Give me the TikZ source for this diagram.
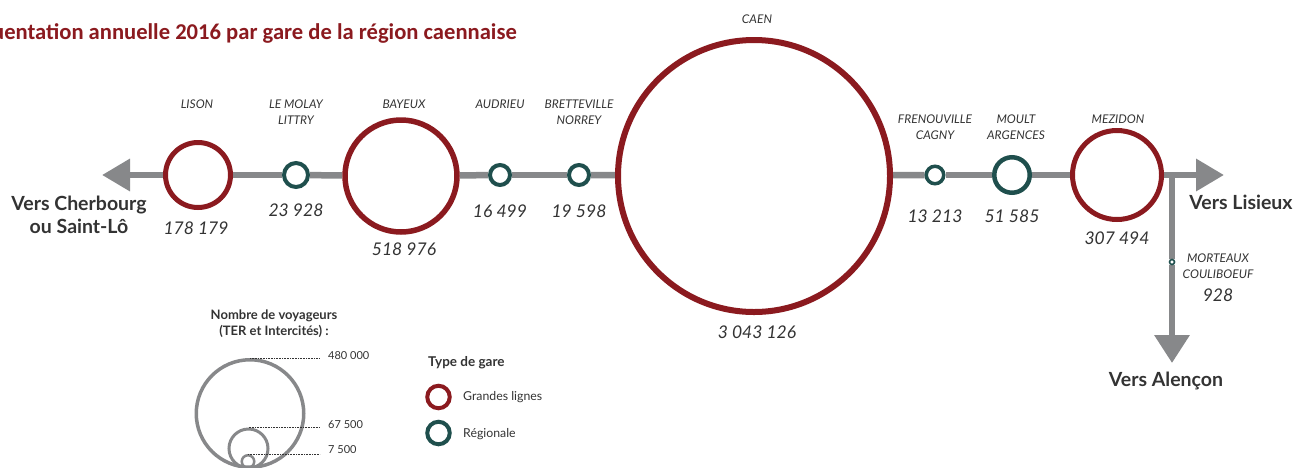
\documentclass[tikz,border=0pt]{standalone}
\usepackage{fontspec}
\setmainfont{Lato}
\newfontfamily\titlefont{Carlito}
\usetikzlibrary{arrows.meta,backgrounds}
\definecolor{gred}{HTML}{8B1A1F}
\definecolor{ggreen}{HTML}{1F4F4D}
\definecolor{ggrey}{HTML}{87888A}
\definecolor{gtext}{HTML}{333333}
\begin{document}
\begin{tikzpicture}[x=1pt,y=-1pt,
  rail/.style={draw=ggrey, line width=6.5pt},
  redst/.style={circle, draw=gred, fill=white, inner sep=0pt, line width=5pt},
  greenst/.style={circle, draw=ggreen, fill=white, inner sep=0pt, line width=4pt},
  stname/.style={font=\itshape\fontsize{12}{16}\selectfont, text=gtext, align=center, inner sep=0pt},
  stnum/.style={font=\itshape\fontsize{17.5}{18}\selectfont, text=gtext, inner sep=0pt},
  dest/.style={font=\bfseries\fontsize{19.5}{23}\selectfont, text=gtext, align=center, inner sep=0pt},
  lgcirc/.style={circle, draw=ggrey, inner sep=0pt},
  lgtext/.style={font=\fontsize{11}{12}\selectfont, text=gtext, anchor=west, inner sep=0pt},
  leader/.style={draw=gtext, densely dotted, line width=0.6pt},
  tip/.style={-{Triangle[length=28pt 0,width=31pt 0]}}]
\useasboundingbox (0,0) rectangle (1295,467);
\clip (0,0) rectangle (1295,467);

% title (cut at the left edge, as in the reference)
\node[anchor=east, inner sep=0pt, text=gred, font=\titlefont\bfseries\fontsize{22.6}{24}\selectfont] (title) at (517,33) {Fréquentation annuelle 2016 par gare de la région caennaise};

% stations
\node[redst, minimum size=65pt] (lison) at (198,175) {};
\node[greenst, minimum size=24pt] (molay) at (296,175) {};
\node[redst, line width=5.5pt, minimum size=112pt] (bayeux) at (401,176) {};
\node[greenst, minimum size=20pt] (audrieu) at (500,175) {};
\node[greenst, minimum size=20pt] (bretteville) at (579,175) {};
\node[redst, line width=6pt, minimum size=272pt] (caen) at (754,176) {};
\node[greenst, line width=3.5pt, minimum size=17.5pt] (frenouville) at (935,175) {};
\node[greenst, line width=4.5pt, minimum size=35.5pt] (moult) at (1012,175) {};
\node[redst, minimum size=89pt] (mezidon) at (1117,175) {};
\node[greenst, line width=1.6pt, minimum size=5pt] (morteaux) at (1172,262) {};

\coordinate (W) at (102,175);
\coordinate (E) at (1224,175);
\coordinate (br) at (1172,175);
\coordinate (S) at (1172,363);

\begin{pgfonlayer}{background}
\draw[rail, tip] (lison) -- (W);
\draw[rail] (lison) -- (molay);
\draw[rail] (molay) -- (bayeux);
\draw[rail] (bayeux) -- (audrieu);
\draw[rail] (audrieu) -- (bretteville);
\draw[rail] (bretteville) -- (caen);
\draw[rail] (caen) -- (frenouville);
\draw[rail] (frenouville) -- (moult);
\draw[rail] (moult) -- (mezidon);
\draw[rail, tip] (mezidon) -- (E);
\draw[rail] ([yshift=-3.25pt]br) -- (morteaux);
\draw[rail, -{Triangle[length=28pt 0,width=34pt 0]}] (morteaux) -- (S);
\end{pgfonlayer}

% station names
\node[stname] (n-lison) at (197,104) {LISON};
\node[stname] (n-molay) at (296,112) {LE MOLAY\\LITTRY};
\node[stname] (n-bayeux) at (404,104) {BAYEUX};
\node[stname] (n-audrieu) at (500,104) {AUDRIEU};
\node[stname] (n-bretteville) at (579,112) {BRETTEVILLE\\NORREY};
\node[stname] (n-caen) at (757,19) {CAEN};
\node[stname] (n-frenouville) at (935,127) {FRENOUVILLE\\CAGNY};
\node[stname] (n-moult) at (1016,127) {MOULT\\ARGENCES};
\node[stname] (n-mezidon) at (1118,119) {MEZIDON};
\node[stname] (n-morteaux) at (1218,266) {MORTEAUX\\COULIBOEUF};

% numbers
\node[stnum] (v-lison) at (196,228) {178 179};
\node[stnum] (v-molay) at (296,210) {23 928};
\node[stnum] (v-bayeux) at (404,249) {518 976};
\node[stnum] (v-audrieu) at (500,211) {16 499};
\node[stnum] (v-bretteville) at (579,211) {19 598};
\node[stnum] (v-caen) at (757,332) {3 043 126};
\node[stnum] (v-frenouville) at (935,216) {13 213};
\node[stnum] (v-moult) at (1012,216) {51 585};
\node[stnum] (v-mezidon) at (1117,238) {307 494};
\node[stnum] (v-morteaux) at (1218,295) {928};

% destinations
\node[dest] (d-cherbourg) at (79,214.5) {Vers Cherbourg\\ou Saint-Lô};
\node[dest] (d-lisieux) at (1241,202) {Vers Lisieux};
\node[dest] (d-alencon) at (1166,381) {Vers Alençon};

% legend: sizes
\node[inner sep=0pt, align=center, text=gtext, font=\bfseries\fontsize{13}{16}\selectfont] (lg-title) at (274,324) {Nombre de voyageurs\\(TER et Intercités) :};
\node[lgcirc, line width=3.5pt, minimum size=107.5pt] (lg-big) at (250,413.5) {};
\node[lgcirc, line width=3pt, minimum size=39pt] (lg-mid) at (248.5,448.5) {};
\node[lgcirc, line width=2.5pt, minimum size=12.5pt] (lg-small) at (248,461.5) {};
\node[lgtext] (t480) at (328,356) {480 000};
\node[lgtext] (t675) at (328,425) {67 500};
\node[lgtext] (t75) at (328,450) {7 500};
\draw[leader] (lg-big.north) -- ([xshift=-8pt]t480.west |- lg-big.north);
\draw[leader] (lg-mid.north) -- ([xshift=-8pt]t675.west |- lg-mid.north);
\draw[leader] (lg-small.north) -- ([xshift=-8pt]t75.west |- lg-small.north);

% legend: type
\node[inner sep=0pt, anchor=west, text=gtext, font=\bfseries\fontsize{13.5}{15}\selectfont] (lg-type) at (428,363) {Type de gare};
\node[redst, line width=4pt, minimum size=22.5pt] (lg-red) at (438.5,397) {};
\node[greenst, line width=4pt, minimum size=22.5pt] (lg-green) at (438.5,433) {};
\node[lgtext, font=\fontsize{12.3}{13}\selectfont] (lg-grandes) at (463,397) {Grandes lignes};
\node[lgtext, font=\fontsize{12.3}{13}\selectfont] (lg-regionale) at (463,434) {Régionale};
\end{tikzpicture}
\end{document}
